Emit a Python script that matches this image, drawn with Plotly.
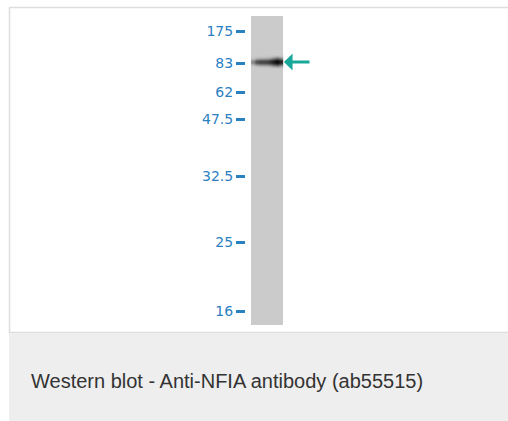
import plotly.graph_objects as go

# ---- data ----
marker_kda = ["175", "83", "62", "47.5", "32.5", "25", "16"]
marker_migration = [15, 47, 76, 103, 160, 226, 295]   # distance from lane top
lane_names = ["Lane 1"]
lane_length = [309]
band_kda = "83"
band_migration = 46
band_cols = [-0.44, -0.33, -0.22, -0.11, 0.0, 0.11, 0.22, 0.33, 0.44]
band_rows = [38.5, 40.5, 42.5, 44.5, 46.5, 48.5, 50.5, 52.5]
band_z = [
    [0.00, 0.00, 0.00, 0.00, 0.00, 0.00, 0.00, 0.00, 0.00],
    [0.00, 0.02, 0.03, 0.03, 0.04, 0.06, 0.12, 0.16, 0.09],
    [0.05, 0.16, 0.20, 0.20, 0.22, 0.28, 0.45, 0.56, 0.36],
    [0.28, 0.52, 0.60, 0.60, 0.63, 0.72, 0.88, 0.97, 0.78],
    [0.32, 0.58, 0.66, 0.66, 0.69, 0.77, 0.91, 1.00, 0.82],
    [0.10, 0.26, 0.32, 0.32, 0.34, 0.40, 0.55, 0.64, 0.44],
    [0.00, 0.03, 0.05, 0.05, 0.06, 0.09, 0.16, 0.20, 0.11],
    [0.00, 0.00, 0.00, 0.00, 0.00, 0.00, 0.00, 0.00, 0.00],
]
caption = "Western blot - Anti-NFIA antibody (ab55515)"

# ---- styling / layout ----
W, H = 508, 421
ML, MR, MT, MB = 10, 0, 8, 89
PW, PH = W - ML - MR, H - MT - MB
LANE_GRAY = "#cbcbcb"
BLUE = "#2b80bf"
TEAL = "#18a89a"


def px_x(p):
    return (p - ML) / PW


def px_y(p):
    return 1 - (p - MT) / PH


fig = go.Figure()
fig.add_trace(go.Bar(
    x=[0], y=lane_length, base=[0], width=[1],
    marker=dict(color=LANE_GRAY, line=dict(width=0)),
    hoverinfo="skip", showlegend=False, name=lane_names[0],
    xaxis="x", yaxis="y",
))
fig.add_trace(go.Heatmap(
    x=band_cols, y=band_rows, z=band_z, zmin=0, zmax=1, zsmooth="best",
    colorscale=[[0, LANE_GRAY], [0.5, "#626262"], [1, "#080808"]],
    showscale=False, hoverinfo="skip", xaxis="x2", yaxis="y2",
))

fig.add_annotation(
    x=0.5, y=band_migration, xref="x", yref="y",
    ax=28, ay=0, axref="pixel", ayref="pixel",
    showarrow=True, arrowhead=1, arrowsize=0.95, arrowwidth=3,
    arrowcolor=TEAL, standoff=1, text="",
)

fig.add_annotation(
    x=px_x(29), y=px_y(381), xref="paper", yref="paper",
    xanchor="left", yanchor="middle", showarrow=False,
    text=caption, font=dict(family="Liberation Sans, Arial", size=20, color="#333333"),
)

shapes = [
    dict(type="rect", xref="paper", yref="paper",
         x0=px_x(9.5), x1=px_x(530), y0=px_y(332.5), y1=px_y(7.5),
         line=dict(color="#dddddd", width=1.5), fillcolor="rgba(0,0,0,0)", layer="below"),
    dict(type="rect", xref="paper", yref="paper",
         x0=px_x(9), x1=px_x(530), y0=px_y(421), y1=px_y(333.3),
         line=dict(width=0), fillcolor="#eeeeee", layer="below"),
]

lane_px_w = 32
x_lo = (ML - 267) / lane_px_w
x_hi = (W - MR - 267) / lane_px_w
y_range = [316, -8]

fig.update_layout(
    width=W, height=H,
    margin=dict(l=ML, r=MR, t=MT, b=MB, pad=0),
    paper_bgcolor="white", plot_bgcolor="rgba(0,0,0,0)",
    shapes=shapes, showlegend=False, bargap=0,
    xaxis=dict(range=[x_lo, x_hi], visible=False, fixedrange=True),
    yaxis=dict(
        range=y_range, anchor="free", position=px_x(245),
        tickmode="array", tickvals=marker_migration, ticktext=marker_kda,
        ticks="outside", ticklen=9, tickwidth=3, tickcolor=BLUE,
        tickfont=dict(family="DejaVu Sans", size=14, color=BLUE),
        showline=False, showgrid=False, zeroline=False, fixedrange=True,
    ),
    xaxis2=dict(range=[x_lo, x_hi], overlaying="x", visible=False, fixedrange=True),
    yaxis2=dict(range=y_range, overlaying="y", visible=False, fixedrange=True),
)

fig.write_html(
    "out.html",
    config={"displayModeBar": False, "staticPlot": True},
    post_script="document.body.style.margin='0';document.body.style.overflow='hidden';",
)
